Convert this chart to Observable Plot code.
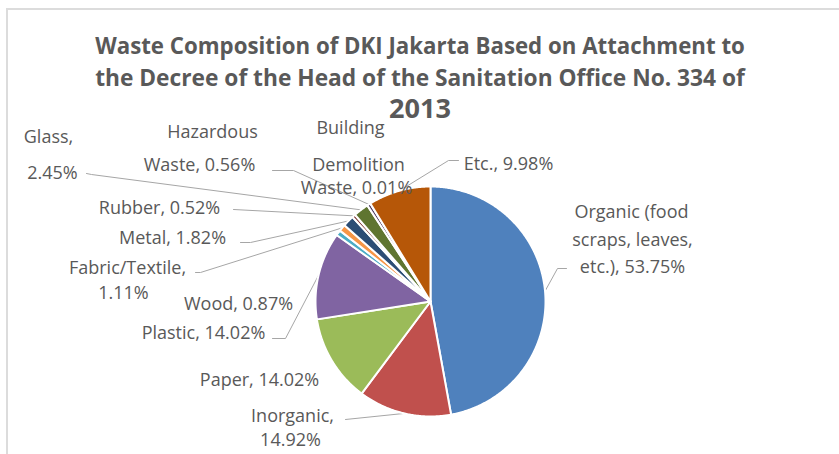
<!DOCTYPE html>
<html><head><meta charset="utf-8">
<script src="https://cdn.jsdelivr.net/npm/d3@7"></script>
<script src="https://cdn.jsdelivr.net/npm/@observablehq/plot@0.6"></script>
<style>
body{margin:0;background:#fff;overflow:hidden}
#chart{position:relative;width:839px;height:454px}
#chart::before{content:"";position:absolute;left:6px;top:8px;right:-10px;bottom:-10px;border-left:2px solid #dcdcdc;border-top:2px solid #dcdcdc;pointer-events:none}
#chart svg{display:block}
</style></head><body><div id="chart"></div>
<script>
// ---- data ----
const categories = ["Organic (food scraps, leaves, etc.)","Inorganic","Paper","Plastic","Wood","Fabric/Textile","Metal","Rubber","Glass","Hazardous Waste","Building Demolition Waste","Etc."];
const values = [53.75,14.92,14.02,14.02,0.87,1.11,1.82,0.52,2.45,0.56,0.01,9.98];
const colors = ["#4F81BD","#C0504D","#9BBB59","#8064A2","#4BACC6","#F79646","#2C4D75","#772C2A","#5F7530","#4D3B62","#276A7C","#B65708"];
const titleLines = ["Waste Composition of DKI Jakarta Based on Attachment to","the Decree of the Head of the Sanitation Office No. 334 of","2013"];

// ---- layout (pixel space) ----
const W = 839, H = 454;
const pie = {cx: 430, cy: 301, r: 115};
const titleLayout = [{dy: 46, size: 20, width: 650}, {dy: 78, size: 20, width: 650}, {dy: 109, size: 24, width: 62}];
// words per label line, label line centres, leader-line bend points
const labelLayout = {
  "Organic (food scraps, leaves, etc.)": {wrap:[2,2,2], pos:[[631,212],[632,240],[632,267]], leader:[[566,268],[557,268]]},
  "Inorganic": {wrap:[1,1], pos:[[292,416],[290,440]], leader:[[345,419]]},
  "Paper": {wrap:[2], pos:[[259,380]]},
  "Plastic": {wrap:[2], pos:[[203,333]], leader:[[272,338],[285,338]]},
  "Wood": {wrap:[2], pos:[[238,304]]},
  "Fabric/Textile": {wrap:[1,1], pos:[[127,268],[123,293]], leader:[[195,272],[200,272]]},
  "Metal": {wrap:[2], pos:[[172,238]], leader:[[240,242],[250,242]]},
  "Rubber": {wrap:[2], pos:[[159,208]], leader:[[233,209]]},
  "Glass": {wrap:[1,1], pos:[[48,137],[52,173]], leader:[[86,173],[91,174]]},
  "Hazardous Waste": {wrap:[1,2], pos:[[212,132],[199,165]], leader:[[272,170],[293,170]]},
  "Building Demolition Waste": {wrap:[1,1,2], pos:[[350,128],[358,165],[356,188]]},
  "Etc.": {wrap:[2], pos:[[508,164]], leader:[[458,160],[448,160]]}
};

// ---- derived geometry ----
const arcs = d3.pie().sort(null).value(d => d.value)(categories.map((c, i) => ({name: c, value: values[i]})));
const pt = (a, r) => [pie.cx + r * Math.sin(a), pie.cy - r * Math.cos(a)];
const slicePts = [];
for (const a of arcs) {
  const n = Math.max(2, Math.ceil((a.endAngle - a.startAngle) / (Math.PI / 360)));
  slicePts.push({name: a.data.name, x: pie.cx, y: pie.cy});
  for (let k = 0; k <= n; k++) {
    const [x, y] = pt(a.startAngle + (a.endAngle - a.startAngle) * k / n, pie.r);
    slicePts.push({name: a.data.name, x, y});
  }
  slicePts.push({name: a.data.name, x: pie.cx, y: pie.cy});
}
const labelRows = [], leaderPts = [];
for (const a of arcs) {
  const L = labelLayout[a.data.name];
  const words = `${a.data.name}, ${a.data.value.toFixed(2)}%`.split(" ");
  let w = 0;
  L.wrap.forEach((cnt, j) => {
    labelRows.push({text: words.slice(w, w + cnt).join(" "), x: L.pos[j][0], y: L.pos[j][1]});
    w += cnt;
  });
  if (L.leader) {
    const mid = (a.startAngle + a.endAngle) / 2;
    const [ex, ey] = pt(mid, pie.r);
    for (const p of L.leader) leaderPts.push({name: a.data.name, x: p[0], y: p[1]});
    leaderPts.push({name: a.data.name, x: ex, y: ey});
  }
}

const FONT = "'Open Sans', Lato, sans-serif";
const chart = Plot.plot({
  width: W, height: H,
  margin: 0,
  x: {domain: [0, W], range: [0, W], axis: null},
  y: {domain: [0, H], range: [0, H], axis: null},
  color: {domain: categories, range: colors},
  style: {fontFamily: FONT, background: "transparent", overflow: "visible"},
  marks: [
    Plot.line(leaderPts, {x: "x", y: "y", z: "name", stroke: "#a6a6a6", strokeWidth: 1, curve: "linear"}),
    Plot.line(slicePts, {x: "x", y: "y", z: "name", fill: "name", stroke: "#ffffff", strokeWidth: 2, strokeLinejoin: "round", curve: "linear"}),
    Plot.text(labelRows, {x: "x", y: "y", text: "text", fill: "#595959", fontSize: 18, fontFamily: FONT, textAnchor: "middle", lineAnchor: "middle"}),
    ...titleLines.map((t, i) => Plot.text([t], {frameAnchor: "top", dy: titleLayout[i].dy, fill: "#595959", fontSize: titleLayout[i].size, fontWeight: "bold", fontFamily: FONT, lineAnchor: "middle"}))
  ]
});
document.getElementById("chart").appendChild(chart);
// fit title lines to the reference widths
chart.querySelectorAll("text").forEach(el => {
  const i = titleLines.indexOf(el.textContent);
  if (i < 0) return;
  const len = el.getComputedTextLength();
  if (len > 0) el.setAttribute("font-size", (titleLayout[i].size * titleLayout[i].width / len).toFixed(2));
});
</script></body></html>
